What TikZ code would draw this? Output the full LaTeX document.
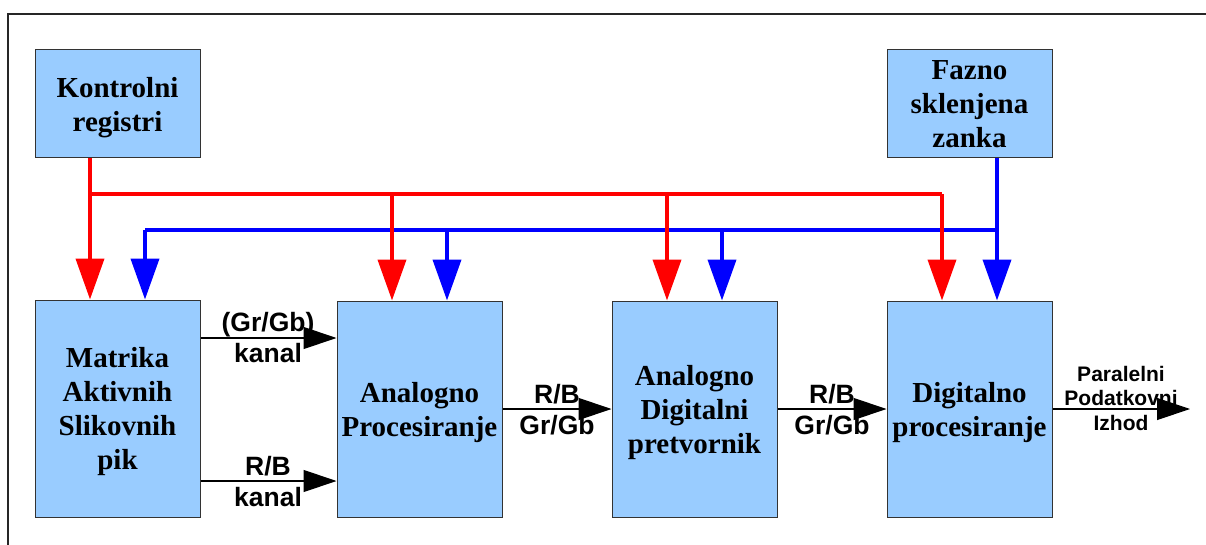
\documentclass[tikz,border=0pt]{standalone}
\usepackage{fontspec}
\setmainfont{Liberation Serif}
\newfontfamily\labelfont{Liberation Sans}
\usetikzlibrary{arrows.meta}
\definecolor{boxblue}{HTML}{99CCFF}
\definecolor{busred}{HTML}{FF0000}
\definecolor{busblue}{HTML}{0000FF}
\tikzset{
  blockbox/.style={draw=black!80, line width=1pt, fill=boxblue, align=center,
    minimum width=165pt, inner sep=0pt, text depth=0pt,
    font=\fontsize{29}{34}\selectfont\bfseries},
  busline/.style={line width=4pt, line join=miter},
  busarrow/.style={line width=4pt, -{Triangle[length=41pt,width=28pt]}},
  sigarrow/.style={line width=1.2pt, -{Triangle[length=33pt,width=22pt]}},
  siglabel/.style={align=center, inner sep=0pt,
    font=\labelfont\fontsize{26.5}{31}\selectfont\bfseries},
  outlabel/.style={align=center, inner sep=0pt,
    font=\labelfont\fontsize{21}{24.5}\selectfont\bfseries},
}
\begin{document}
\begin{tikzpicture}[x=1pt,y=-1pt]
\useasboundingbox (0,0) rectangle (1206,545);
% frame
\draw[black!85, line width=1.5pt] (8,545) -- (8,14) -- (1206,14);

% blocks
\node[blockbox, minimum height=108pt] (kr) at (117.5,104) {Kontrolni\\registri};
\node[blockbox, minimum height=108pt] (pll) at (969.5,104) {Fazno\\sklenjena\\zanka};
\node[blockbox, minimum height=217pt] (mat) at (117.5,408.5) {Matrika\\Aktivnih\\Slikovnih\\pik};
\node[blockbox, minimum height=216pt] (ap) at (419.5,409) {Analogno\\Procesiranje};
\node[blockbox, minimum height=216pt] (adc) at (694.5,409) {Analogno\\Digitalni\\pretvornik};
\node[blockbox, minimum height=216pt] (dp) at (969.5,409) {Digitalno\\procesiranje};

% bus coordinates
\coordinate (r1) at (90,194);
\coordinate (r2) at (392,194);
\coordinate (r3) at (667,194);
\coordinate (r4) at (942,194);
\coordinate (b1) at (145,230);
\coordinate (b2) at (447,230);
\coordinate (b3) at (722,230);
\coordinate (b4) at (997,230);

% blue clock bus
\draw[busline, busblue] (b1) -- (b4);
\draw[busarrow, busblue] (pll.south -| b4) -- (dp.north -| b4);
\draw[busarrow, busblue] (b1) -- (mat.north -| b1);
\draw[busarrow, busblue] (b2) -- (ap.north -| b2);
\draw[busarrow, busblue] (b3) -- (adc.north -| b3);

% red control bus
\draw[busline, busred] (r1) -- (r4);
\draw[busarrow, busred] (kr.south -| r1) -- (mat.north -| r1);
\draw[busarrow, busred] (r2) -- (ap.north -| r2);
\draw[busarrow, busred] (r3) -- (adc.north -| r3);
\draw[busarrow, busred] (r4) -- (dp.north -| r4);

% signal labels
\node[siglabel] (l1) at (268,338) {(Gr/Gb)\\kanal};
\node[siglabel] (l2) at (268,482) {R/B\\kanal};
\node[siglabel] (l3) at (557,410) {R/B\\Gr/Gb};
\node[siglabel] (l4) at (832,410) {R/B\\Gr/Gb};
\node[outlabel] (l5) at (1121,398) {Paralelni\\Podatkovni\\Izhod};

% signal rows
\coordinate (h1) at (0,338);
\coordinate (h2) at (0,481);
\coordinate (h3) at (0,409);
\coordinate (out) at (1190,409);

\draw[sigarrow] (mat.east |- h1) -- (ap.west |- h1);
\draw[sigarrow] (mat.east |- h2) -- (ap.west |- h2);
\draw[sigarrow] (ap.east |- h3) -- (adc.west |- h3);
\draw[sigarrow] (adc.east |- h3) -- (dp.west |- h3);
\draw[sigarrow] (dp.east |- h3) -- (out);
\end{tikzpicture}
\end{document}
